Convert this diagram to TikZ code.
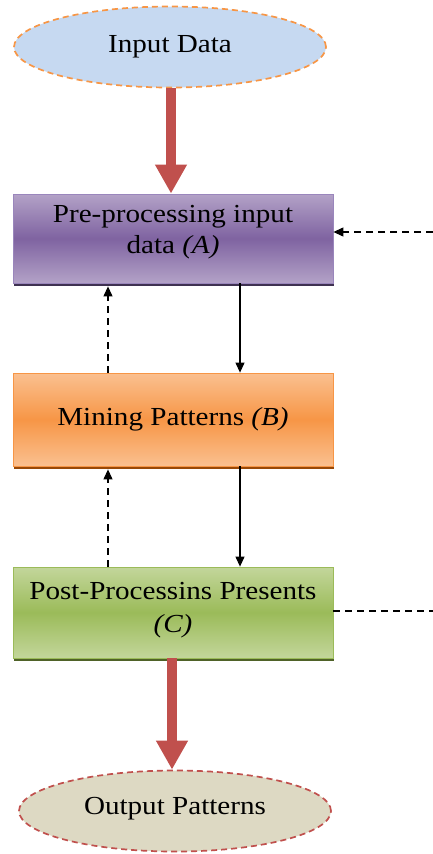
\documentclass[tikz,border=0pt]{standalone}
\usepackage{fontspec}
\setmainfont{Liberation Serif}[FakeStretch=1.12]
\usetikzlibrary{arrows.meta,shapes.geometric,shadows,calc}

\definecolor{inFill}{HTML}{C6D9F1}
\definecolor{inLine}{HTML}{F79646}
\definecolor{outFill}{HTML}{DDD9C3}
\definecolor{redArr}{HTML}{C0504D}
\definecolor{aLight}{HTML}{B3A2C7}
\definecolor{aDark}{HTML}{7F63A1}
\definecolor{aLine}{HTML}{9A86BC}
\definecolor{aShadow}{HTML}{3F3151}
\definecolor{bLight}{HTML}{FAC090}
\definecolor{bDark}{HTML}{F79646}
\definecolor{bShadow}{HTML}{984807}
\definecolor{cLight}{HTML}{C3D69B}
\definecolor{cDark}{HTML}{9BBB59}
\definecolor{cShadow}{HTML}{4F6228}

\tikzset{
  txt/.style={font=\fontsize{26}{31}\selectfont, text=black, align=center},
  oval/.style={ellipse, txt, minimum width=312pt, minimum height=81pt,
    inner sep=0pt, dashed, dash pattern=on 6pt off 4pt, line width=1.7pt},
  stage/.style={rectangle, txt, minimum width=320pt, inner sep=0pt, line width=0.8pt},
  bigarrow/.style={draw=redArr, line width=10pt,
    -{Triangle[width=30pt,length=29pt]}},
  flow/.style={draw=black, line width=1.1pt, -{Triangle[width=9pt,length=10pt]}},
  feedback/.style={flow, dash pattern=on 7pt off 5pt},
  feedline/.style={draw=black, line width=1.1pt, dash pattern=on 7pt off 5pt},
}

\begin{document}
\begin{tikzpicture}[x=1pt,y=-1pt]
  \useasboundingbox (0,0) rectangle (433,854);

  % start and end ovals
  \node[oval, fill=inFill, draw=inLine] (in) at (170,47) {\raisebox{4pt}{Input Data}};
  \node[oval, fill=outFill, draw=redArr] (out) at (175,811) {\raisebox{10pt}{Output Patterns}};

  % the three processing stages
  \node[stage, minimum height=89pt, draw=aLine,
        top color=aLight, bottom color=aLight, middle color=aDark,
        general shadow={shadow xshift=1pt, shadow yshift=-3pt, fill=aShadow}]
        (A) at (173,238.5) {Pre-processing input\\data \textit{(A)}\\[-12pt]};
  \node[stage, minimum height=93pt, draw=bDark,
        top color=bLight, bottom color=bLight, middle color=bDark,
        general shadow={shadow xshift=1pt, shadow yshift=-3pt, fill=bShadow}]
        (B) at (173,419.5) {Mining Patterns \textit{(B)}};
  \node[stage, minimum height=91pt, draw=cDark,
        top color=cLight, bottom color=cLight, middle color=cDark,
        general shadow={shadow xshift=1pt, shadow yshift=-3pt, fill=cShadow}]
        (C) at (173,612.5) {Post-Processins Presents\\[2pt]\textit{(C)}\\[-21pt]};

  % columns of the small connectors and right-hand feedback ends
  \coordinate (down) at (240,0);
  \coordinate (up) at (108,0);
  \coordinate (fbIn) at (433,232);
  \coordinate (fbOut) at (433,611);

  % main flow
  \draw[bigarrow] (in.south -| 171,0) -- (A.north -| 171,0);
  \draw[bigarrow] (C.south -| 172,0) -- (out.north -| 172,0);

  % forward steps
  \draw[flow] (A.south -| down) -- (B.north -| down);
  \draw[flow] (B.south -| down) -- (C.north -| down);

  % feedback steps
  \draw[feedback] (B.north -| up) -- ([yshift=-3pt]A.south -| up);
  \draw[feedback] (C.north -| up) -- ([yshift=-3pt]B.south -| up);
  \draw[feedback] (fbIn) -- (fbIn -| A.east);
  \draw[feedline] (fbOut -| C.east) -- (fbOut);
\end{tikzpicture}
\end{document}
